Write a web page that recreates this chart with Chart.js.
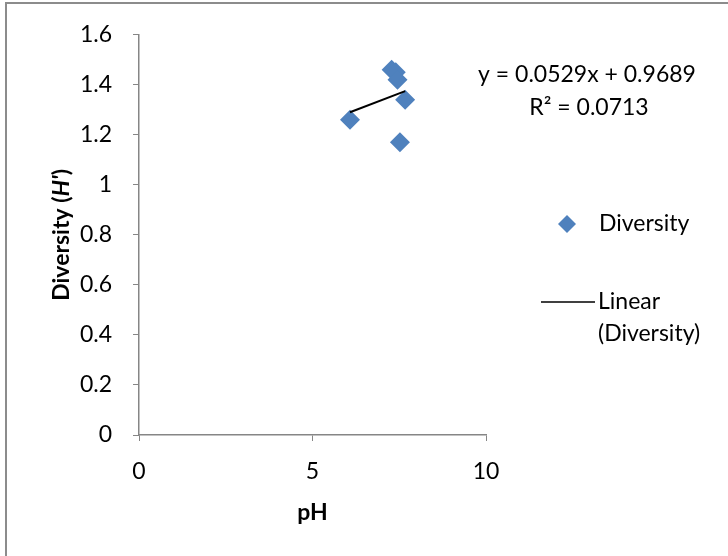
<!DOCTYPE html>
<html>
<head>
<meta charset="utf-8">
<script src="https://cdn.jsdelivr.net/npm/chart.js@4.4.1/dist/chart.umd.min.js"></script>
<style>
  html, body { margin: 0; padding: 0; background: #fff; }
  #wrap { width: 728px; height: 556px; position: relative; }
</style>
</head>
<body>
<div id="wrap"><canvas id="c" width="728" height="556"></canvas></div>
<script>
// ---- data ----
const phValues = [6.08, 7.28, 7.40, 7.45, 7.67, 7.52];
const diversityValues = [1.26, 1.46, 1.45, 1.42, 1.34, 1.17];
const seriesLabel = 'Diversity';
const trendLabel = 'Linear (Diversity)';
const trendSlope = 0.0529;
const trendIntercept = 0.9689;
const equationText = 'y = 0.0529x + 0.9689';
const r2Text = 'R² = 0.0713';
const xTickValues = [0, 5, 10];
const yTickValues = [0, 0.2, 0.4, 0.6, 0.8, 1, 1.2, 1.4, 1.6];
const xTitle = 'pH';

const FONT = 'Lato, "Open Sans", sans-serif';
const FS = 23;
const MARKER = '#4F81BD';
const AXIS = '#868686';

const points = phValues.map((x, i) => ({ x: x, y: diversityValues[i] }));
const xMin = Math.min(...phValues), xMax = Math.max(...phValues);
const trendPoints = [
  { x: xMin, y: trendSlope * xMin + trendIntercept },
  { x: xMax, y: trendSlope * xMax + trendIntercept }
];

const decor = {
  id: 'decor',
  afterDraw(chart) {
    const ctx = chart.ctx;
    const ca = chart.chartArea;
    ctx.save();
    // outer frame (left & top edges visible)
    ctx.strokeStyle = '#8c8c8c';
    ctx.lineWidth = 2;
    ctx.beginPath();
    ctx.moveTo(6, 556); ctx.lineTo(6, 3); ctx.lineTo(728, 3);
    ctx.stroke();

    // y axis title with italic H'
    ctx.fillStyle = '#000';
    ctx.textBaseline = 'middle';
    const parts = [
      { t: 'Diversity (', f: 'bold ' + FS + 'px ' + FONT },
      { t: "H'", f: 'italic bold ' + FS + 'px ' + FONT },
      { t: ')', f: 'bold ' + FS + 'px ' + FONT }
    ];
    let total = 0;
    parts.forEach(p => { ctx.font = p.f; p.w = ctx.measureText(p.t).width; total += p.w; });
    ctx.translate(62, (ca.top + ca.bottom) / 2);
    ctx.rotate(-Math.PI / 2);
    let px = -total / 2;
    ctx.textAlign = 'left';
    parts.forEach(p => { ctx.font = p.f; ctx.fillText(p.t, px, 0); px += p.w; });
    ctx.setTransform(1, 0, 0, 1, 0, 0);

    // x axis title
    ctx.font = 'bold ' + FS + 'px ' + FONT;
    ctx.textAlign = 'center';
    ctx.fillText(xTitle, (ca.left + ca.right) / 2, 513);

    // equation
    ctx.font = FS + 'px ' + FONT;
    ctx.textAlign = 'center';
    ctx.fillStyle = '#000';
    ctx.fillText(equationText, 587, 75);
    ctx.fillText(r2Text, 589, 108);

    // legend
    const ds = chart.data.datasets;
    ctx.fillStyle = MARKER;
    ctx.beginPath();
    const lx = 567, ly = 224, r = 9;
    ctx.moveTo(lx - r, ly); ctx.lineTo(lx, ly - r); ctx.lineTo(lx + r, ly); ctx.lineTo(lx, ly + r);
    ctx.closePath(); ctx.fill();
    ctx.fillStyle = '#000';
    ctx.textAlign = 'left';
    ctx.fillText(ds[0].label, 599, 224);
    ctx.strokeStyle = '#000';
    ctx.lineWidth = 1.5;
    ctx.beginPath(); ctx.moveTo(541, 302); ctx.lineTo(595, 302); ctx.stroke();
    const tl = ds[1].label.split(' ');
    ctx.fillText(tl[0], 598, 302);
    ctx.fillText(tl.slice(1).join(' '), 598, 334);
    ctx.restore();
  }
};

new Chart(document.getElementById('c'), {
  type: 'scatter',
  data: {
    datasets: [
      {
        label: seriesLabel,
        data: points,
        pointStyle: 'rectRot',
        pointRadius: 10,
        pointHoverRadius: 10,
        backgroundColor: MARKER,
        borderColor: MARKER,
        borderWidth: 0,
        order: 2
      },
      {
        label: trendLabel,
        type: 'line',
        data: trendPoints,
        borderColor: '#000',
        borderWidth: 2,
        pointRadius: 0,
        fill: false,
        order: 1
      }
    ]
  },
  options: {
    responsive: false,
    animation: false,
    devicePixelRatio: 1,
    layout: { padding: { left: 0, top: 33, right: 242, bottom: 0 } },
    plugins: { legend: { display: false }, tooltip: { enabled: false } },
    scales: {
      x: {
        type: 'linear',
        min: 0, max: 10,
        afterBuildTicks(s) { s.ticks = xTickValues.map(v => ({ value: v })); },
        afterFit(s) { s.height = 121; },
        grid: { drawOnChartArea: false, drawTicks: true, tickLength: 6, color: AXIS, lineWidth: 1 },
        border: { display: true, color: AXIS, width: 1.5 },
        ticks: { color: '#000', font: { family: FONT, size: FS }, padding: 17 },
        title: { display: false }
      },
      y: {
        type: 'linear',
        min: 0, max: 1.6,
        afterBuildTicks(s) { s.ticks = yTickValues.map(v => ({ value: v })); },
        afterFit(s) { s.width = 139; },
        grid: { drawOnChartArea: false, drawTicks: true, tickLength: 6, color: AXIS, lineWidth: 1 },
        border: { display: true, color: AXIS, width: 1.5 },
        ticks: { color: '#000', font: { family: FONT, size: FS }, padding: 21,
          callback: v => String(Number(v.toFixed(1))) }
      }
    }
  },
  plugins: [decor]
});
</script>
</body>
</html>
